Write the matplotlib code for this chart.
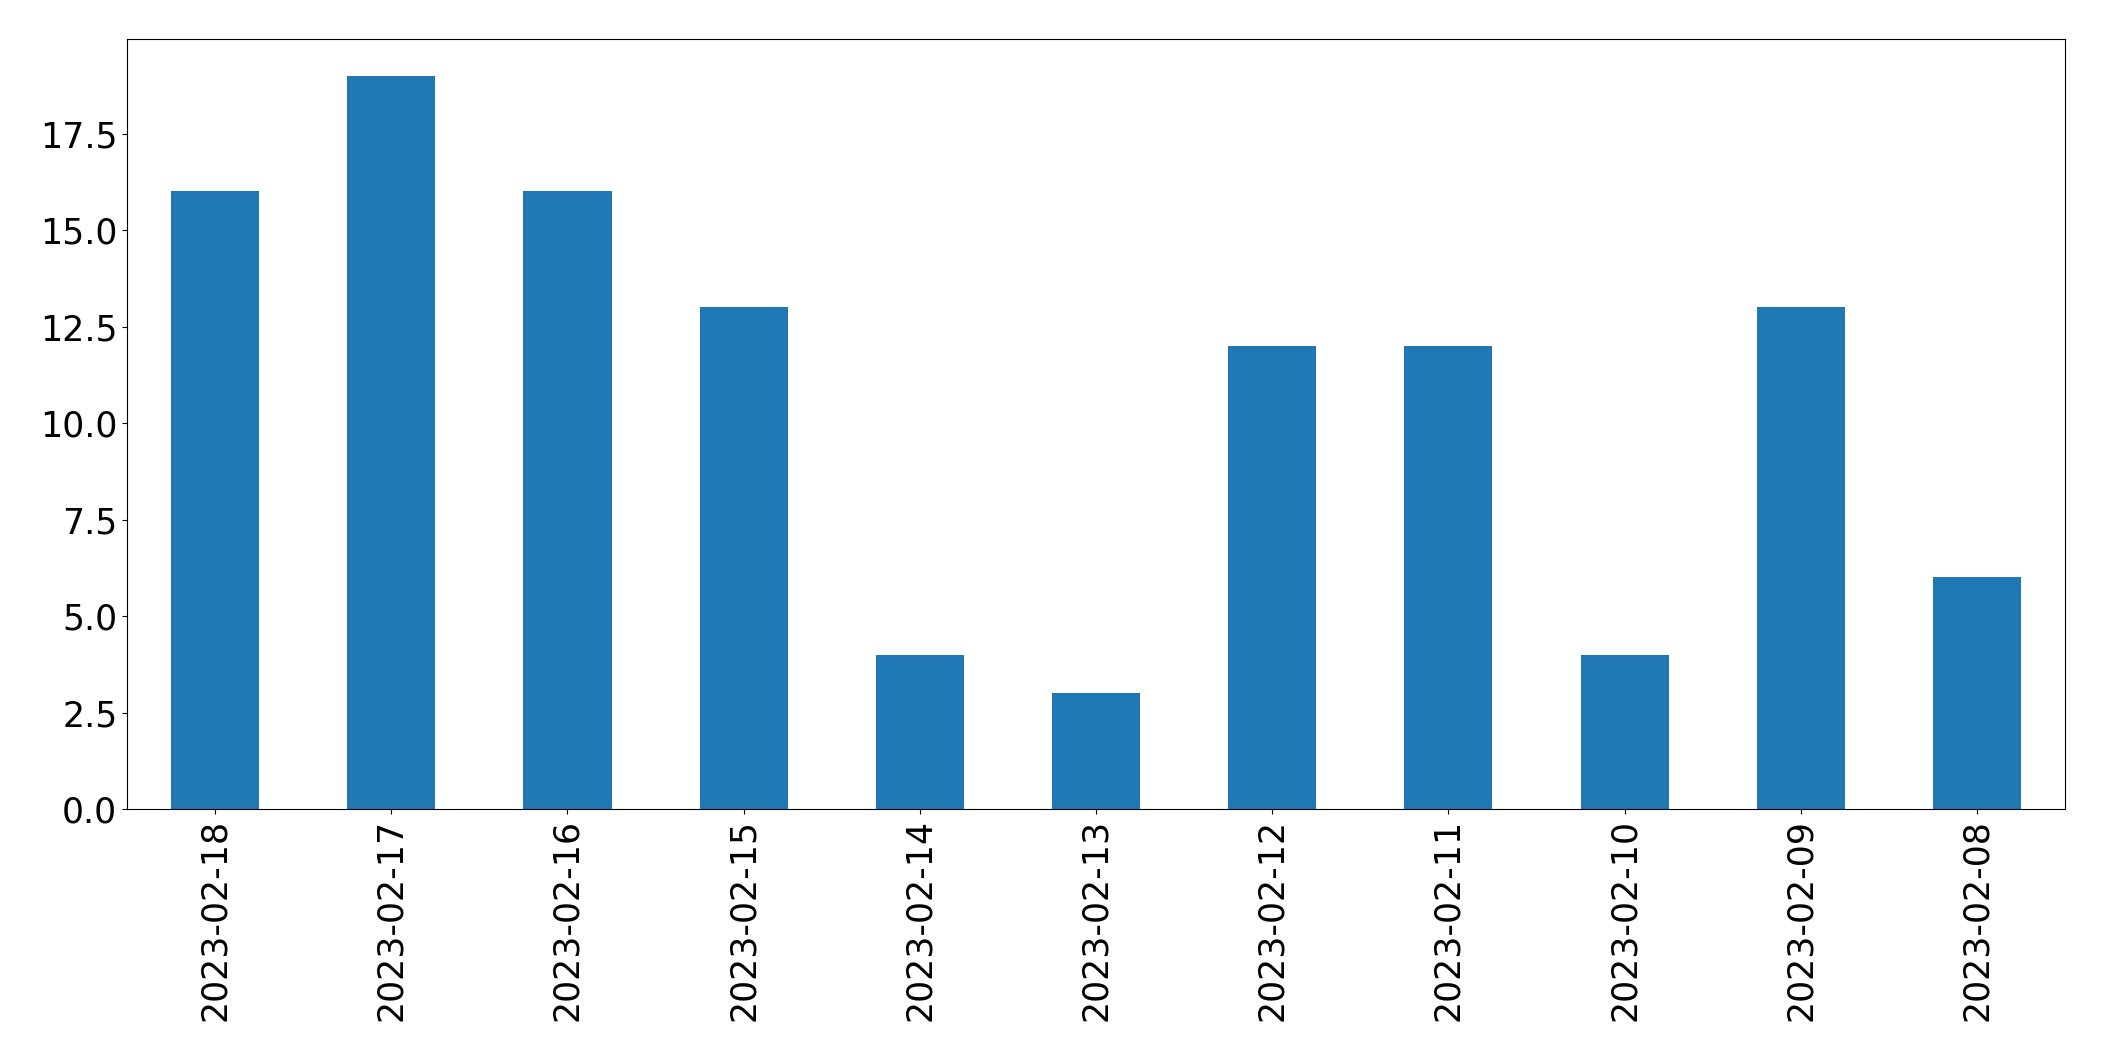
import matplotlib
matplotlib.use("Agg")
import matplotlib.pyplot as plt

dates = ["2023-02-18", "2023-02-17", "2023-02-16", "2023-02-15", "2023-02-14",
         "2023-02-13", "2023-02-12", "2023-02-11", "2023-02-10", "2023-02-09",
         "2023-02-08"]
counts = [16, 19, 16, 13, 4, 3, 12, 12, 4, 13, 6]

W, H = 2104, 1061
fig = plt.figure(figsize=(W / 100, H / 100), dpi=100)
ax = fig.add_axes([127 / W, 1 - 809 / H, (2065 - 127) / W, (809 - 39) / H])

x = list(range(len(dates)))
ax.bar(x, counts, width=0.5, color="#1f77b4")
ax.set_xlim(-0.5, len(dates) - 0.5)
ax.set_ylim(0, max(counts) * 1.05)
ax.set_xticks(x)
ax.set_xticklabels(dates, rotation=90)
ax.tick_params(axis="both", labelsize=25)

fig.savefig("out.png", dpi=100)
